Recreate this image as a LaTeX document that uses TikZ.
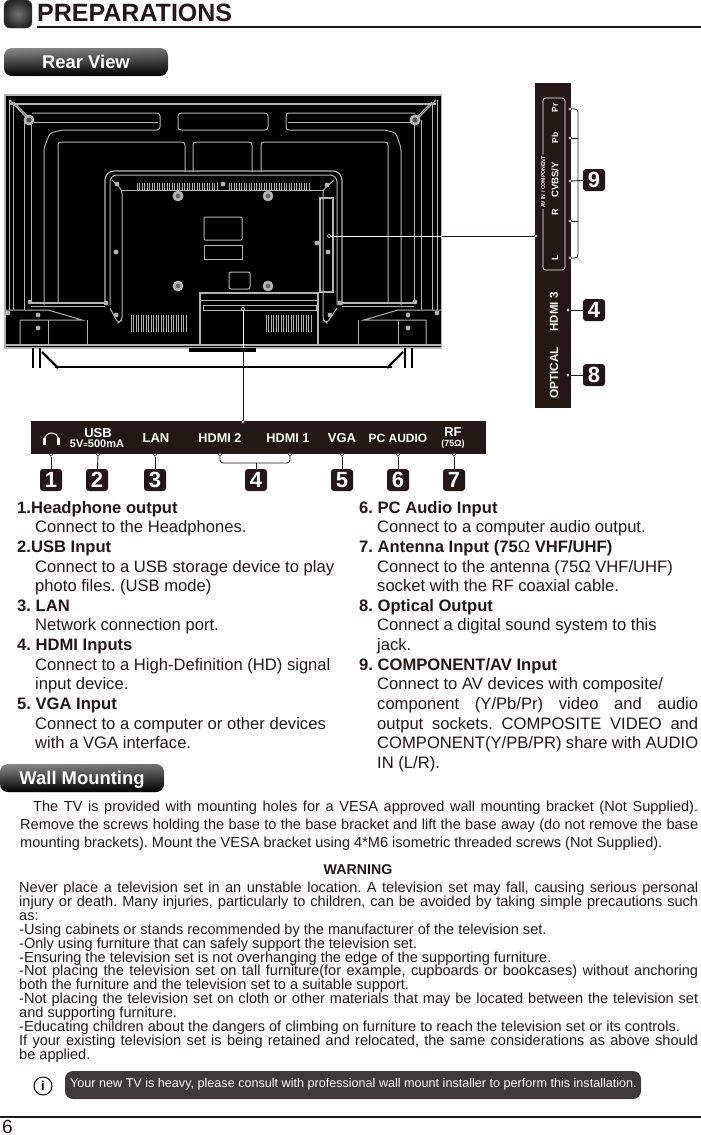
\documentclass[tikz,border=0pt]{standalone}
\usepackage{fontspec}
\setmainfont{Liberation Sans}
\usetikzlibrary{fadings}
\definecolor{inkblack}{HTML}{231815}
\definecolor{tvline}{HTML}{B4B4B4}
\definecolor{notegray}{HTML}{3E3A39}
\frenchspacing
\newcommand{\jline}[1]{\makebox[\linewidth][s]{#1}}
\tikzset{
    ruleline/.style={line width=1.6pt, inkblack},
    tvdraw/.style={line width=1pt, tvline},
    conn/.style={line width=0.9pt, inkblack},
    port/.style={circle, draw=inkblack, fill=white, line width=0.6pt, inner sep=0pt, minimum size=3.6pt},
    badge/.style={rectangle, rounded corners=3pt, fill=inkblack, text=white, font=\fontsize{22}{22}\selectfont\bfseries, minimum width=22pt, minimum height=22pt, inner sep=0pt},
    pill/.style={rectangle, rounded corners=8pt, left color=black!45, middle color=black, right color=black!55, text=white, font=\fontsize{18.4}{18.4}\selectfont\bfseries, minimum width=164pt, minimum height=28pt, inner sep=0pt, text height=13pt, text depth=0pt,
        path picture={\fill[black, path fading=north] (path picture bounding box.south west) rectangle (path picture bounding box.north east);}},
    stripfont/.style={text=white, font=\fontsize{#1}{#1}\selectfont\bfseries, inner sep=0pt},
    sidefont/.style={text=white, rotate=90, font=\fontsize{#1}{#1}\selectfont\bfseries, inner sep=0pt},
    listtext/.style={anchor=north west, inner sep=0pt, align=flush left, text width=#1, text=inkblack, font=\fontsize{16.6}{19.62}\selectfont},
    smalltext/.style={anchor=north west, inner sep=0pt, align=flush left, text width=#1, text=inkblack},
}
\begin{document}
\begin{tikzpicture}[x=1pt, y=-1pt]
    \useasboundingbox (0,0) rectangle (701,1135);

    % Header
    \node[rectangle, rounded corners=6pt, minimum size=28pt, inner sep=0pt, inner color=black!55, outer color=black!85, draw=black!80] (headicon) at (18,14) {};
    \node[anchor=base west, inner sep=0pt, text=inkblack, font=\fontsize{25}{25}\selectfont\bfseries] (title) at (37,21.5) {PREPARATIONS};
    \draw[ruleline] (37,27) -- (701,27);
    \node[pill] (rearview) at (86,62) {Rear View};

    % TV body
    \fill[black] (4.7,95) rectangle (441.5,348);
    \draw[tvdraw, line width=1.6pt] (4.7,95) rectangle (441.5,348);
    \draw[tvdraw, line width=1.5pt] (10,104) -- (436,104);
    \foreach \xa/\xb/\ya/\yb in {9/9/100/310, 13/13/104/310, 24/24/120/310, 31/31/120/303, 437/437/100/310, 432/432/104/310, 421/421/120/310, 414/414/120/303}
        \draw[tvdraw] (\xa,\ya) -- (\xb,\yb);
    \draw[tvdraw, line width=1.4pt] (10,100) -- (27,118);
    \draw[tvdraw, line width=1.4pt] (436,100) -- (418,118);
    \draw[tvdraw] (14,102) -- (31,120);
    \draw[tvdraw] (432,102) -- (414,120);
    \foreach \px/\py in {29/120, 415/120} {
        \fill[tvline] (\px,\py) circle (5.5);
        \fill[black!70] (\px,\py) circle (2.6);
    }

    % Strips along the top
    \draw[tvdraw, rounded corners=3pt] (32,113) -- (160,113) -- (160,130) -- (62,130) -- (50,133) -- (44,148) -- (44,305);
    \draw[tvdraw] (34,122) -- (158,122);
    \draw[tvdraw, rounded corners=3pt] (178,113) rectangle (268,130);
    \draw[tvdraw, rounded corners=3pt] (415,113) -- (286,113) -- (286,130) -- (385,130) -- (396,133) -- (401,148) -- (401,305);
    \draw[tvdraw] (288,122) -- (412,122);

    % Panels
    \draw[tvdraw, rounded corners=3pt] (58,303) -- (58,142) -- (185,142) -- (185,172);
    \draw[tvdraw, rounded corners=3pt] (193,172) -- (193,142) -- (252,142) -- (252,172);
    \draw[tvdraw, rounded corners=3pt] (261,172) -- (261,142) -- (388,142) -- (388,303);

    % Middle ring
    \draw[tvdraw, line width=1.2pt, rounded corners=9pt] (105,305) -- (105,171) -- (342,171) -- (342,305);
    \draw[tvdraw, rounded corners=7pt] (110,305) -- (110,175) -- (337,175) -- (337,305);
    \draw[tvdraw, rounded corners=3pt] (112,180) -- (122,190) -- (122,320) -- (118,323) -- (110,308);
    \draw[tvdraw, rounded corners=3pt] (334,180) -- (323,190) -- (323,320) -- (327,323) -- (337,308);
    \draw[tvdraw] (122,190) -- (323,190);
    \draw[tvdraw, line width=1.2pt] (31,303) -- (105,303) (31,306.5) -- (105,306.5);
    \draw[tvdraw, line width=1.2pt] (342,303) -- (414,303) (342,306.5) -- (414,306.5);

    % Vents
    \foreach \i in {0,...,32} {
        \draw[tvdraw] (137+\i*2.5,183) -- (137+\i*2.5,190);
        \draw[tvdraw] (229+\i*2.5,183) -- (229+\i*2.5,190);
    }
    \foreach \i in {0,...,22}
        \draw[tvdraw] (131+\i*2.5,315) -- (131+\i*2.5,332);
    \foreach \i in {0,...,18}
        \draw[tvdraw] (266+\i*2.5,315) -- (266+\i*2.5,332);

    % Screws and mounting holes
    \foreach \px/\py in {178/196, 268/196, 178/286, 268/286} {
        \fill[tvline] (\px,\py) circle (5.4);
        \fill[black!60] (\px,\py) circle (2.4);
    }
    \foreach \px/\py in {117/184, 223/184, 327/185, 116/252, 38/315, 38/328, 8/313, 437/313, 408/315, 408/328, 30/302, 415/302, 116/315, 330/315, 106/303, 340/303, 317/243, 328/252}
        \fill[tvline] (\px,\py) circle (2.4);

    % Labels on the back
    \draw[tvdraw, rounded corners=1pt] (204,217) rectangle (242,240);
    \draw[tvdraw] (204,245) rectangle (242,259);
    \draw[tvdraw, rounded corners=2pt] (229,272) rectangle (250,289);
    \draw[tvdraw, line width=1.1pt] (320,198) rectangle (333,292);

    % Base bracket
    \fill[tvline] (199,293) rectangle (201,345);
    \fill[tvline] (317,293) rectangle (319,345);
    \draw[tvdraw, line width=1.4pt] (199,293) -- (319,293);
    \draw[tvdraw] (201,300) -- (317,300);
    \draw[tvdraw] (203,305) rectangle (316,310);

    % Lower corners
    \draw[tvdraw] (5,310) -- (48,310) -- (82,320) -- (20,320) -- (20,345);
    \draw[tvdraw] (48,320) -- (48,345) (87,320) -- (87,345);
    \draw[tvdraw] (441,310) -- (398,310) -- (364,320) -- (426,320) -- (426,345);
    \draw[tvdraw] (398,320) -- (398,345) (358,320) -- (358,345);
    \draw[tvdraw, line width=1.4pt] (5,345) -- (441,345);

    % Stand
    \fill[black] (189,348) rectangle (256,352);
    \draw[black, line width=1.6pt] (33,348) -- (33,368) (40,348) -- (40,368) (405,348) -- (405,368) (412,348) -- (412,368);
    \draw[black, line width=2.4pt] (42,352) -- (58,368) (403,352) -- (387,368);
    \draw[black, line width=1.2pt] (55,367) -- (392,367);

    % Side panel
    \fill[inkblack] (535,83) rectangle (571,408);
    \draw[white, line width=0.7pt, rounded corners=3pt] (543,98) rectangle (565,270);
    \node[fill=inkblack, sidefont=5.2, inner sep=1pt] (avlabel) at (543,182) {AV IN / COMPONENT};
    \node[sidefont=8.5] (labelpr) at (555,108) {Pr};
    \node[sidefont=8.5] (labelpb) at (555,138) {Pb};
    \node[sidefont=9.6] (labelcvbs) at (555,180) {CVBS/Y};
    \node[sidefont=9] (labelr) at (555,212) {R};
    \node[sidefont=9] (labell) at (555,258) {L};
    \node[sidefont=11.5] (labelhdmi) at (554,312) {HDMI 3};
    \node[sidefont=11.8] (labeloptical) at (554,373) {OPTICAL};

    % Ports of the side panel
    \node[port] (portpr) at (570,109) {};
    \node[port] (portpb) at (570,138) {};
    \node[port] (portcvbs) at (570,181) {};
    \node[port] (portr) at (570,221) {};
    \node[port] (portl) at (570,258) {};
    \node[port] (porthdmi) at (568,310) {};
    \node[port] (portoptical) at (568,375) {};
    \node[port] (portside) at (536,236) {};
    \node[badge] (badgenine) at (594,180) {9};
    \node[badge] (badgefourside) at (594,310) {4};
    \node[badge] (badgeeight) at (594,375) {8};
    \coordinate (brackside) at (578,181);
    \draw[conn, rounded corners=3pt] (portl) -| (brackside) |- (portpr);
    \draw[conn] (portpb) -- (portpb -| brackside);
    \draw[conn] (portr) -- (portr -| brackside);
    \draw[conn] (portcvbs) -- (badgenine);
    \draw[conn] (porthdmi) -- (badgefourside);
    \draw[conn] (portoptical) -- (badgeeight);

    % Connector strip
    \fill[inkblack] (31,421) rectangle (486,454);
    \node[stripfont=13] (labelusb) at (98,433) {USB};
    \node[stripfont=11] (labelpower) at (97,444) {5V{\raisebox{0.4pt}{\scalebox{0.7}{=}}}500mA};
    \node[stripfont=13] (labellan) at (156,438) {LAN};
    \node[stripfont=12.7] (labelhdmitwo) at (220,438) {HDMI 2};
    \node[stripfont=12.7] (labelhdmione) at (288,438) {HDMI 1};
    \node[stripfont=13] (labelvga) at (342,438) {VGA};
    \node[stripfont=12] (labelpc) at (398,438) {PC AUDIO};
    \node[stripfont=13] (labelrf) at (453,432) {RF};
    \node[stripfont=9] (labelohm) at (453,444) {(75Ω)};

    % Headphones
    \draw[white, line width=1pt] (44.5,440) arc (180:360:7);
    \fill[white] (43,438) rectangle (46,445);
    \fill[white] (57,438) rectangle (60,445);

    % Ports of the strip
    \node[port] (porttop) at (243,422) {};
    \node[port] (portone) at (51,454.5) {};
    \node[port] (porttwo) at (98,454.5) {};
    \node[port] (portthree) at (155,454.5) {};
    \node[port] (porthdmitwo) at (220,454.5) {};
    \node[port] (porthdmione) at (290,454.5) {};
    \node[port] (portfive) at (342,454.5) {};
    \node[port] (portsix) at (398,454.5) {};
    \node[port] (portseven) at (454,454.5) {};
    \node[badge] (badgeone) at (51,480) {1};
    \node[badge] (badgetwo) at (97,480) {2};
    \node[badge] (badgethree) at (155,480) {3};
    \node[badge] (badgefour) at (256,480) {4};
    \node[badge] (badgefive) at (342,480) {5};
    \node[badge] (badgesix) at (398,480) {6};
    \node[badge] (badgeseven) at (454,480) {7};
    \coordinate (brackstrip) at (256,463);
    \draw[conn, rounded corners=3pt] (porthdmitwo) |- (brackstrip) -| (porthdmione);
    \draw[conn] (brackstrip) -- (badgefour);
    \foreach \n in {one, two, three, five, six, seven}
        \draw[conn] (port\n) -- (badge\n);

    % Lines from the TV to the connectors
    \node[port, draw=white, fill=black] (screwside) at (329,236) {};
    \node[port, draw=white, fill=black] (screwbase) at (243,309) {};
    \coordinate (edgeright) at (441.5,236);
    \coordinate (edgebottom) at (243,348);
    \draw[white, line width=0.9pt] (screwside) -- (edgeright);
    \draw[conn] (edgeright) -- (portside);
    \draw[white, line width=0.9pt] (screwbase) -- (edgebottom);
    \draw[conn] (edgebottom) -- (porttop);

    % Left list
    \node[listtext=325pt] (listleft) at (17,501) {%
        \textbf{1.Headphone output}\\
        \hspace*{18pt}Connect to the Headphones.\\
        \textbf{2.USB Input}\\
        \hspace*{18pt}Connect to a USB storage device to play\\
        \hspace*{18pt}photo files. (USB mode)\\
        \textbf{3. LAN}\\
        \hspace*{18pt}Network connection port.\\
        \textbf{4. HDMI Inputs}\\
        \hspace*{18pt}Connect to a High-Definition (HD) signal\\
        \hspace*{18pt}input device.\\
        \textbf{5. VGA Input}\\
        \hspace*{18pt}Connect to a computer or other devices\\
        \hspace*{18pt}with a VGA interface.};

    % Right list
    \node[listtext=339pt] (listright) at (359,501) {%
        \textbf{6. PC Audio Input}\\
        \hspace*{18pt}Connect to a computer audio output.\\
        \textbf{7. Antenna Input (75}Ω\textbf{ VHF/UHF)}\\
        \hspace*{18pt}Connect to the antenna (75Ω VHF/UHF)\\
        \hspace*{18pt}socket with the RF coaxial cable.\\
        \textbf{8. Optical Output}\\
        \hspace*{18pt}Connect a digital sound system to this\\
        \hspace*{18pt}jack.\\
        \textbf{9. COMPONENT/AV Input}\\
        \hspace*{18pt}Connect to AV devices with composite/\\
        \hspace*{18pt}\makebox[321pt][s]{component (Y/Pb/Pr) video and audio}\\
        \hspace*{18pt}\makebox[321pt][s]{output sockets. COMPOSITE VIDEO and}\\
        \hspace*{18pt}\makebox[321pt][s]{COMPONENT(Y/PB/PR) share with AUDIO}\\
        \hspace*{18pt}IN (L/R).};

    % Wall mounting
    \node[pill, minimum width=164pt] (wallmount) at (82,778) {Wall Mounting};
    \node[smalltext=678pt, font=\fontsize{14.55}{18.1}\selectfont] (walltext) at (20,801) {%
        \hspace*{13pt}\makebox[665pt][s]{The TV is provided with mounting holes for a VESA approved wall mounting bracket (Not Supplied).}\\
        \jline{Remove the screws holding the base to the base bracket and lift the base away (do not remove the base}\\
        mounting brackets). Mount the VESA bracket using 4*M6 isometric threaded screws (Not Supplied).};

    % Warning
    \node[inner sep=0pt, text=inkblack, font=\fontsize{14.2}{14.2}\selectfont\bfseries] (warninghead) at (358,870) {WARNING};
    \node[smalltext=679pt, font=\fontsize{14.55}{13.95}\selectfont] (warningtext) at (19,881.5) {%
        \jline{Never place a television set in an unstable location. A television set may fall, causing serious personal}\\
        \jline{injury or death. Many injuries, particularly to children, can be avoided by taking simple precautions such}\\
        as:\\
        -Using cabinets or stands recommended by the manufacturer of the television set.\\
        -Only using furniture that can safely support the television set.\\
        -Ensuring the television set is not overhanging the edge of the supporting furniture.\\
        \jline{-Not placing the television set on tall furniture(for example, cupboards or bookcases) without anchoring}\\
        both the furniture and the television set to a suitable support.\\
        \jline{-Not placing the television set on cloth or other materials that may be located between the television set}\\
        and supporting furniture.\\
        -Educating children about the dangers of climbing on furniture to reach the television set or its controls.\\
        \jline{If your existing television set is being retained and relocated, the same considerations as above should}\\
        be applied.};

    % Note at the bottom
    \node[circle, draw=black, line width=1pt, minimum size=18pt, inner sep=0pt, font=\fontsize{13}{13}\selectfont\bfseries] (infoicon) at (43,1086) {i};
    \node[rectangle, rounded corners=8pt, fill=notegray, minimum width=576pt, minimum height=28pt, inner sep=0pt] (notebox) at (353,1085) {};
    \node[anchor=west, text=white, inner sep=0pt, font=\fontsize{12.6}{12.6}\selectfont] (notetext) at (70,1084) {Your new TV is heavy, please consult with professional wall mount installer to perform this installation.};

    % Footer
    \draw[ruleline] (0,1117) -- (701,1117);
    \node[anchor=base west, inner sep=0pt, text=inkblack, font=\fontsize{19}{19}\selectfont] (pagenum) at (2,1133) {6};
\end{tikzpicture}
\end{document}
